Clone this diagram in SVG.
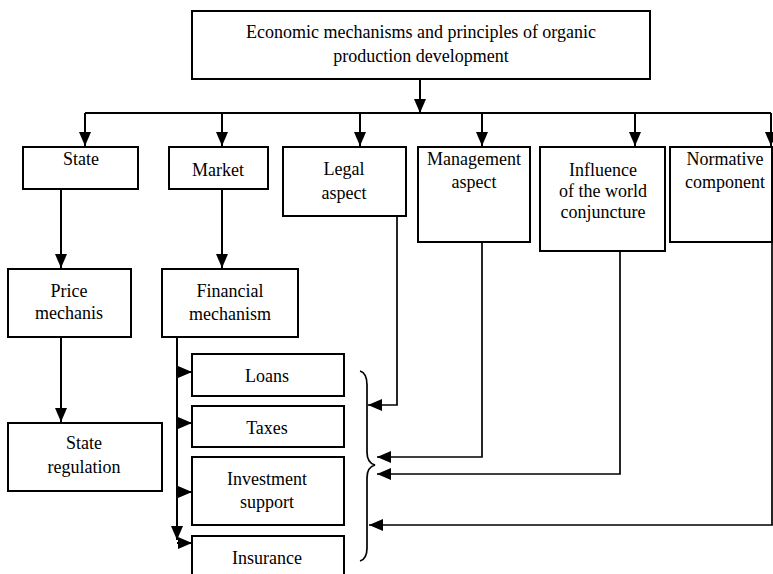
<svg xmlns="http://www.w3.org/2000/svg" width="773" height="574" viewBox="0 0 773 574">
<style>
.box{fill:#fff;stroke:#000;stroke-width:2}
.t{font-family:"Liberation Serif","Times New Roman",serif;font-size:18px;fill:#000;text-anchor:middle}
.c{fill:none;stroke:#000;stroke-width:2}
.s{fill:none;stroke:#000;stroke-width:1.7}
</style>
<defs>
<marker id="ah" viewBox="0 0 14 12" refX="14" refY="6" markerWidth="14" markerHeight="12" markerUnits="userSpaceOnUse" orient="auto">
<path d="M0,0 L14,6 L0,12 Z" fill="#000"/>
</marker>
</defs>
<rect width="773" height="574" fill="#fff"/>
<g id="connectors">
<path class="c" d="M420,79 V113" marker-end="url(#ah)"/>
<path class="c" d="M85,113 H771"/>
<path class="c" d="M85,113 V146" marker-end="url(#ah)"/>
<path class="c" d="M222,113 V146" marker-end="url(#ah)"/>
<path class="c" d="M360,113 V146" marker-end="url(#ah)"/>
<path class="c" d="M482,113 V146" marker-end="url(#ah)"/>
<path class="c" d="M635,113 V146" marker-end="url(#ah)"/>
<path class="c" d="M771,113 V146" marker-end="url(#ah)"/>
<path class="c" d="M61,189 V268" marker-end="url(#ah)"/>
<path class="c" d="M222,189 V268" marker-end="url(#ah)"/>
<path class="c" d="M61,337 V422" marker-end="url(#ah)"/>
<path class="c" d="M177,337 V540" marker-end="url(#ah)"/>
<path class="c" d="M177,372 H192" marker-end="url(#ah)"/>
<path class="c" d="M177,423 H192" marker-end="url(#ah)"/>
<path class="c" d="M177,492 H192" marker-end="url(#ah)"/>
<path class="c" d="M177,543 H192" marker-end="url(#ah)"/>
<path class="s" d="M397,216 V405 H368" marker-end="url(#ah)"/>
<path class="s" d="M482,242 V457 H377" marker-end="url(#ah)"/>
<path class="s" d="M620,251 V474 H377" marker-end="url(#ah)"/>
<path class="s" d="M772,242 V525 H369" marker-end="url(#ah)"/>
<path class="s" d="M360,371 Q367,373 367,385 V452 Q367,463 375,465 Q367,467 367,478 V548 Q367,559 360,561"/>
</g>
<g id="top"><rect class="box" x="192" y="11" width="458" height="68"/><text class="t" x="421" y="38">Economic mechanisms and principles of organic</text><text class="t" x="421" y="62">production development</text></g>
<g id="state"><rect class="box" x="23" y="147" width="115" height="42"/><text class="t" x="81" y="165">State</text></g>
<g id="market"><rect class="box" x="169" y="147" width="99" height="42"/><text class="t" x="218" y="176">Market</text></g>
<g id="legal"><rect class="box" x="283" y="147" width="123" height="69"/><text class="t" x="344" y="175">Legal</text><text class="t" x="344" y="199">aspect</text></g>
<g id="management"><rect class="box" x="418" y="147" width="112" height="95"/><text class="t" x="474" y="165">Management</text><text class="t" x="474" y="188">aspect</text></g>
<g id="influence"><rect class="box" x="540" y="147" width="125" height="104"/><text class="t" x="603" y="176">Influence</text><text class="t" x="603" y="197">of the world</text><text class="t" x="603" y="218">conjuncture</text></g>
<g id="normative"><rect class="box" x="670" y="147" width="102" height="95"/><text class="t" x="725" y="165">Normative</text><text class="t" x="725" y="188">component</text></g>
<g id="price"><rect class="box" x="8" y="269" width="123" height="68"/><text class="t" x="69" y="297">Price</text><text class="t" x="69" y="319">mechanis</text></g>
<g id="financial"><rect class="box" x="162" y="269" width="136" height="68"/><text class="t" x="230" y="297">Financial</text><text class="t" x="230" y="320">mechanism</text></g>
<g id="stateregulation"><rect class="box" x="8" y="423" width="154" height="68"/><text class="t" x="84" y="449">State</text><text class="t" x="84" y="473">regulation</text></g>
<g id="loans"><rect class="box" x="192" y="354" width="152" height="42"/><text class="t" x="267" y="382">Loans</text></g>
<g id="taxes"><rect class="box" x="192" y="406" width="152" height="41"/><text class="t" x="267" y="434">Taxes</text></g>
<g id="investment"><rect class="box" x="192" y="457" width="152" height="68"/><text class="t" x="267" y="485">Investment</text><text class="t" x="267" y="508">support</text></g>
<g id="insurance"><rect class="box" x="192" y="536" width="152" height="60"/><text class="t" x="267" y="564">Insurance</text></g>
</svg>
